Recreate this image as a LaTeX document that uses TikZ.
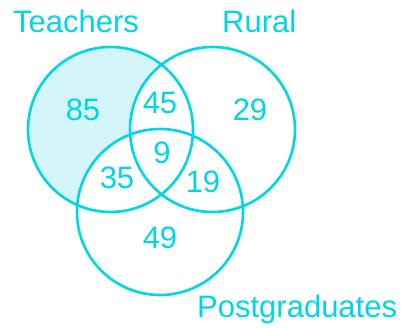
\documentclass[tikz,border=0pt]{standalone}
\usepackage{fontspec}
\setmainfont{Liberation Sans}
\definecolor{vcyan}{RGB}{0,214,230}
\definecolor{vfill}{RGB}{212,246,250}
\tikzset{
  setcircle/.style={draw=vcyan, line width=2.6pt},
  lbl/.style={text=vcyan, font=\fontsize{31}{31}\selectfont, inner sep=0pt},
}
\begin{document}
\begin{tikzpicture}[x=1pt,y=-1pt]
\useasboundingbox[fill=white] (0,0) rectangle (402,327);
\coordinate (T) at (110.5,129.5);
\coordinate (R) at (212.5,129.5);
\coordinate (P) at (160,212);
% shaded region: teachers only
\fill[vfill] (T) circle[radius=82.5];
\fill[white] (R) circle[radius=82.5];
\fill[white] (P) circle[radius=83];
\draw[setcircle] (T) circle[radius=82.5];
\draw[setcircle] (R) circle[radius=82.5];
\draw[setcircle] (P) circle[radius=83];
\node[lbl, anchor=base west] (lt) at (13,32) {Teachers};
\node[lbl, anchor=base west] (lr) at (222,32) {Rural};
\node[lbl, anchor=base west] (lp) at (197,317) {Postgraduates};
\node[lbl] (n85) at (83,110) {85};
\node[lbl] (n45) at (160,103) {45};
\node[lbl] (n29) at (250,110) {29};
\node[lbl] (n9) at (162,153) {9};
\node[lbl] (n35) at (117,178) {35};
\node[lbl] (n19) at (203,182) {19};
\node[lbl] (n49) at (160,238) {49};
\end{tikzpicture}
\end{document}
